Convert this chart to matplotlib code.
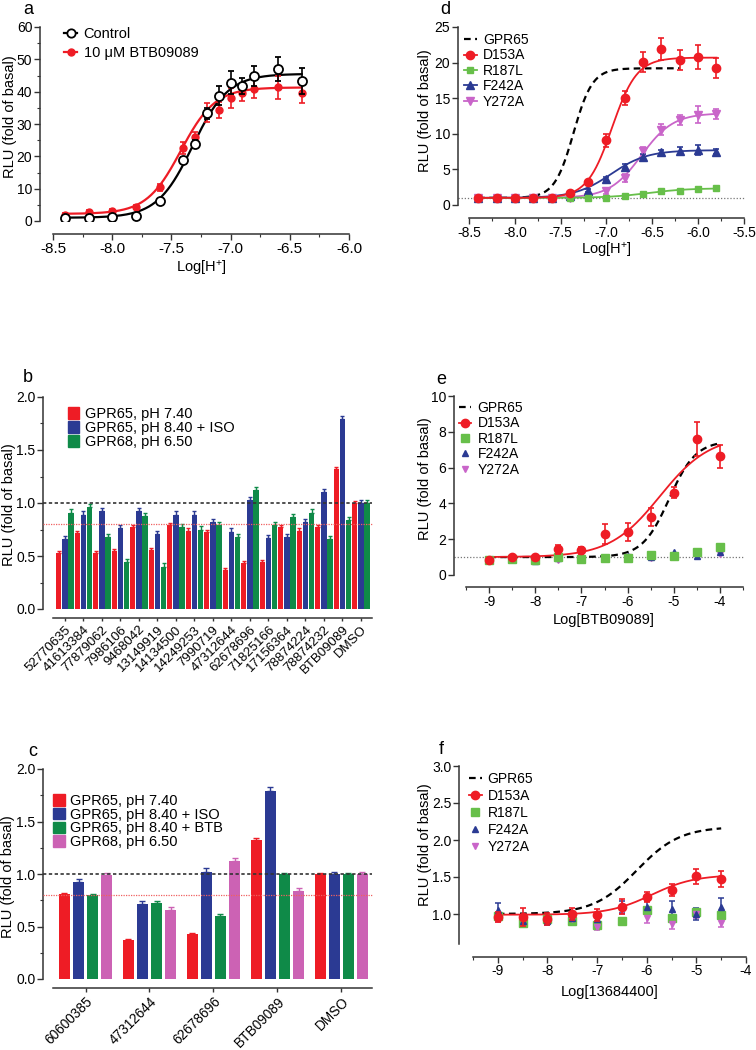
import numpy as np
import matplotlib
matplotlib.use('Agg')
import matplotlib.pyplot as plt
from matplotlib.lines import Line2D
from matplotlib.patches import Patch
import matplotlib.transforms as mtrans
from matplotlib.ticker import MultipleLocator, FixedLocator, FormatStrFormatter

plt.rcParams['font.family'] = ['Liberation Sans', 'DejaVu Sans']
plt.rcParams['mathtext.fontset'] = 'custom'
plt.rcParams['mathtext.rm'] = 'Liberation Sans'
plt.rcParams['mathtext.it'] = 'Liberation Sans:italic'
plt.rcParams['mathtext.default'] = 'regular'
plt.rcParams['axes.unicode_minus'] = False

# ---------------- data ----------------
# panel a
a_x = [-8.4, -8.2, -8.0, -7.8, -7.6, -7.4, -7.3, -7.2, -7.1, -7.0, -6.9, -6.8, -6.6, -6.4]
a_control = [0.8, 1.0, 1.1, 1.4, 6.3, 18.9, 23.8, 33.3, 38.8, 42.8, 41.8, 44.8, 47.0, 43.4]
a_control_err = [0.3, 0.3, 0.3, 0.4, 0.5, 1.0, 1.2, 1.8, 2.8, 3.5, 2.5, 3.0, 3.7, 4.0]
a_btb = [2.0, 2.8, 3.2, 4.4, 10.4, 22.5, 26.1, 33.5, 34.4, 38.1, 39.5, 40.7, 41.3, 39.7]
a_btb_err = [0.4, 0.5, 0.4, 0.5, 1.0, 1.8, 1.5, 3.0, 2.5, 3.0, 2.5, 2.8, 3.5, 3.2]
a_fit_control = (1.0, 45.5, -7.32, 2.9)   # bottom, top, logEC50, hill
a_fit_btb = (2.2, 41.3, -7.42, 3.0)

# panel b
b_cats = ['52770635', '41613384', '77879062', '7986106', '9468042', '13149919', '14134500',
          '14249253', '7990719', '47312644', '62678696', '71825166', '17156364', '78874224',
          '78874232', 'BTB09089', 'DMSO']
b_gpr65_74 = [0.53, 0.72, 0.53, 0.55, 0.77, 0.56, 0.79, 0.74, 0.73, 0.37, 0.43, 0.44, 0.77, 0.74, 0.77, 1.32, 1.00]
b_gpr65_84_iso = [0.66, 0.89, 0.92, 0.76, 0.92, 0.71, 0.89, 0.89, 0.82, 0.73, 1.03, 0.67, 0.68, 0.82, 1.10, 1.79, 1.00]
b_gpr68_65 = [0.91, 0.96, 0.68, 0.44, 0.88, 0.40, 0.77, 0.75, 0.79, 0.68, 1.12, 0.79, 0.87, 0.91, 0.66, 0.84, 1.00]
b_err_74 = [0.02] * 17
b_err_iso = [0.03] * 17
b_err_68 = [0.03] * 17
b_labels = ['GPR65, pH 7.40', 'GPR65, pH 8.40 + ISO', 'GPR68, pH 6.50']

# panel c
c_cats = ['60600385', '47312644', '62678696', 'BTB09089', 'DMSO']
c_gpr65_74 = [0.81, 0.37, 0.425, 1.32, 1.00]
c_gpr65_84_iso = [0.92, 0.71, 1.02, 1.79, 1.00]
c_gpr65_84_btb = [0.80, 0.72, 0.60, 1.00, 1.00]
c_gpr68_65 = [0.99, 0.66, 1.12, 0.84, 1.00]
c_err_74 = [0.01, 0.01, 0.01, 0.02, 0.01]
c_err_iso = [0.03, 0.03, 0.04, 0.04, 0.02]
c_err_btb = [0.01, 0.02, 0.02, 0.01, 0.01]
c_err_68 = [0.02, 0.03, 0.03, 0.03, 0.02]
c_labels = ['GPR65, pH 7.40', 'GPR65, pH 8.40 + ISO', 'GPR65, pH 8.40 + BTB', 'GPR68, pH 6.50']

# panel d
d_x = [-8.4, -8.2, -8.0, -7.8, -7.6, -7.4, -7.2, -7.0, -6.8, -6.6, -6.4, -6.2, -6.0, -5.8]
d_D153A = [1.0, 1.0, 1.0, 1.0, 1.0, 1.7, 3.2, 9.1, 15.0, 20.1, 21.9, 20.3, 20.8, 19.3]
d_D153A_err = [0.1, 0.1, 0.1, 0.1, 0.1, 0.2, 0.3, 0.9, 1.0, 1.4, 1.5, 1.4, 1.7, 1.4]
d_R187L = [1.0, 1.0, 1.0, 1.0, 1.0, 1.0, 1.0, 1.05, 1.25, 1.5, 1.95, 2.0, 2.2, 2.35]
d_R187L_err = [0.1] * 14
d_F242A = [1.0, 1.0, 1.0, 1.0, 1.0, 1.2, 2.0, 3.7, 5.4, 6.8, 7.4, 7.6, 7.7, 7.5]
d_F242A_err = [0.1, 0.1, 0.1, 0.1, 0.1, 0.1, 0.2, 0.3, 0.3, 0.4, 0.3, 0.5, 0.7, 0.3]
d_Y272A = [1.0, 1.0, 1.0, 1.0, 1.0, 1.0, 1.1, 1.9, 3.8, 7.6, 10.6, 12.0, 12.7, 12.8]
d_Y272A_err = [0.1, 0.1, 0.1, 0.1, 0.1, 0.1, 0.2, 0.3, 0.5, 0.6, 0.8, 0.7, 1.2, 0.7]
d_fit_GPR65 = (1.0, 19.2, -7.36, 4.2)
d_fit_D153A = (1.0, 20.7, -6.94, 3.2)
d_fit_R187L = (1.0, 2.35, -6.55, 2.0)
d_fit_F242A = (1.0, 7.7, -6.95, 2.2)
d_fit_Y272A = (1.0, 12.9, -6.62, 2.5)

# panel e
e_x = [-9, -8.5, -8, -7.5, -7, -6.5, -6, -5.5, -5, -4.5, -4]
e_D153A = [0.84, 0.99, 1.0, 1.45, 1.38, 2.29, 2.38, 3.22, 4.59, 7.58, 6.64]
e_D153A_err = [0.05, 0.05, 0.05, 0.25, 0.2, 0.55, 0.5, 0.5, 0.3, 0.95, 0.65]
e_R187L = [0.84, 0.91, 0.84, 0.98, 0.87, 0.93, 0.93, 1.1, 1.08, 1.28, 1.54]
e_F242A = [0.85, 0.9, 0.8, 0.95, 0.9, 0.95, 1.05, 1.0, 1.3, 1.05, 1.3]
e_Y272A = [0.85, 0.85, 0.85, 0.85, 0.9, 0.95, 1.0, 0.95, 1.05, 1.05, 1.15]
e_fit_GPR65 = (1.0, 7.5, -5.1, 1.5)
e_fit_D153A = (1.0, 7.8, -5.3, 0.8)

# panel f
f_x = [-9, -8.5, -8, -7.5, -7, -6.5, -6, -5.5, -5, -4.5]
f_D153A = [0.96, 0.96, 0.93, 1.0, 0.99, 1.10, 1.23, 1.33, 1.51, 1.47]
f_D153A_err = [0.07, 0.12, 0.08, 0.08, 0.08, 0.1, 0.07, 0.08, 0.1, 0.11]
f_R187L = [0.97, 0.88, 0.93, 0.9, 0.85, 0.9, 1.05, 0.95, 1.03, 0.99]
f_F242A = [1.05, 0.9, 0.9, 0.95, 0.93, 1.1, 1.1, 1.07, 1.0, 1.1]
f_F242A_err = [0.1, 0.05, 0.05, 0.05, 0.05, 0.08, 0.07, 0.1, 0.08, 0.12]
f_Y272A = [0.93, 0.9, 0.92, 0.93, 0.83, 1.05, 0.95, 0.87, 1.0, 0.88]
f_Y272A_err = [0.04, 0.04, 0.04, 0.04, 0.05, 0.05, 0.07, 0.07, 0.05, 0.06]
f_fit_GPR65 = (1.0, 2.18, -6.2, 1.0)
f_fit_D153A = (0.99, 1.53, -5.9, 1.0)

mutants = ['GPR65', 'D153A', 'R187L', 'F242A', 'Y272A']

# ---------------- style ----------------
RED = '#ee1c25'
BLUE = '#2b3a93'
GREEN = '#0f8a48'
PINK = '#cc62b4'
LGREEN = '#67bf4a'
MAG = '#c965c9'
AXC = '#333333'
DOT = '#777777'

TICK = 10
LAB = 10.5
LEG = 10

W, H = 756, 1050
fig = plt.figure(figsize=(W / 100, H / 100), dpi=100)


def P(px):
    return px * 0.72


def add_ax(left, right, top, bottom):
    return fig.add_axes([left / W, 1 - bottom / H, (right - left) / W, (bottom - top) / H])


def style(ax, yout, xout):
    for s in ['top', 'right']:
        ax.spines[s].set_visible(False)
    ax.spines['left'].set_position(('outward', P(yout)))
    ax.spines['bottom'].set_position(('outward', P(xout)))
    for s in ['left', 'bottom']:
        ax.spines[s].set_linewidth(1.1)
        ax.spines[s].set_color(AXC)
    ax.tick_params(which='major', direction='out', length=4, width=1.0, color=AXC,
                   labelsize=TICK, pad=1.5)
    ax.tick_params(which='minor', direction='out', length=2.5, width=0.8, color=AXC)
    ax.patch.set_visible(False)


def logistic(x, p):
    b, t, ec, h = p
    return b + (t - b) / (1 + 10 ** ((ec - x) * h))


def hline(ax, y, yout_px, ax_width_px, **kw):
    tr = mtrans.blended_transform_factory(ax.transAxes, ax.transData)
    ax.plot([-yout_px / ax_width_px, 1.0], [y, y], transform=tr, clip_on=False, **kw)


def legend(ax, handles, labels, xpx, ypx, **kw):
    opts = dict(loc='upper left', bbox_to_anchor=(xpx / W, 1 - ypx / H),
                bbox_transform=fig.transFigure, frameon=False, borderaxespad=0,
                borderpad=0, fontsize=LEG, handlelength=0.9, handletextpad=0.45,
                labelspacing=0.1)
    opts.update(kw)
    ax.legend(handles, labels, **opts)


def ftext(xpx, ypx, s, **kw):
    fig.text(xpx / W, 1 - ypx / H, s, ha='center', va='center', **kw)


# ---------------- panel a ----------------
ax = add_ax(53, 349, 27, 221)
style(ax, 13, 13)
ax.set_xlim(-8.5, -6.0)
ax.set_ylim(0, 60)
ax.xaxis.set_major_locator(MultipleLocator(0.5))
ax.xaxis.set_minor_locator(MultipleLocator(0.25))
ax.xaxis.set_major_formatter(FormatStrFormatter('%.1f'))
ax.tick_params(axis='x', labelsize=11)
ax.yaxis.set_major_locator(MultipleLocator(10))
ax.yaxis.set_minor_locator(MultipleLocator(5))
xs = np.linspace(a_x[0], a_x[-1], 300)
ax.plot(xs, logistic(xs, a_fit_btb), color=RED, lw=1.6, zorder=2)
ax.plot(xs, logistic(xs, a_fit_control), color='black', lw=1.6, zorder=2)
ax.errorbar(a_x, a_btb, yerr=a_btb_err, fmt='o', color=RED, ms=5, capsize=2.5,
            elinewidth=1.2, capthick=1.2, zorder=3)
ax.errorbar(a_x, a_control, yerr=a_control_err, fmt='o', color='black', mfc='white',
            mec='black', mew=1.3, ms=6.5, capsize=2.5, elinewidth=1.2, capthick=1.2, zorder=4)
hs = [Line2D([], [], color='black', lw=1.6, marker='o', mfc='white', mec='black', mew=1.3, ms=6),
      Line2D([], [], color=RED, lw=1.6, marker='o', ms=5)]
legend(ax, hs, ['Control', '10 \u03bcM BTB09089'], 64, 27, fontsize=10.5, labelspacing=0.35)
ftext(10, 117, 'RLU (fold of basal)', rotation=90, fontsize=LAB)
ftext(201, 268, 'Log[H$^{+}$]', fontsize=LAB)
ftext(28, 10, 'a', fontsize=13)

# ---------------- panel d ----------------
ax = add_ax(469, 744, 27, 205)
style(ax, 11, 13)
ax.set_xlim(-8.5, -5.5)
ax.set_ylim(0, 25)
ax.xaxis.set_major_locator(MultipleLocator(0.5))
ax.xaxis.set_minor_locator(MultipleLocator(0.25))
ax.xaxis.set_major_formatter(FormatStrFormatter('%.1f'))
ax.yaxis.set_major_locator(MultipleLocator(5))
hline(ax, 1.0, 11, 275, color=DOT, lw=0.9, ls=(0, (1, 1.5)), zorder=1)
xs = np.linspace(d_x[0], d_x[-1], 300)
xg = np.linspace(d_x[0], -6.2, 300)
ax.plot(xg, logistic(xg, d_fit_GPR65), color='black', lw=1.6, ls=(0, (3, 2)), zorder=2)
series_d = [(d_Y272A, d_Y272A_err, d_fit_Y272A, MAG, 'v', 5.5),
            (d_F242A, d_F242A_err, d_fit_F242A, BLUE, '^', 5.5),
            (d_R187L, d_R187L_err, d_fit_R187L, LGREEN, 's', 5),
            (d_D153A, d_D153A_err, d_fit_D153A, RED, 'o', 6)]
for y, e, p, c, m, ms in series_d:
    ax.plot(xs, logistic(xs, p), color=c, lw=1.3, zorder=2)
    ax.errorbar(d_x, y, yerr=e, fmt=m, color=c, ms=ms, capsize=2.5, elinewidth=1.2,
                capthick=1.2, zorder=3)
hs = [Line2D([], [], color='black', lw=1.6, ls=(0, (3, 2))),
      Line2D([], [], color=RED, lw=1.3, marker='o', ms=6),
      Line2D([], [], color=LGREEN, lw=1.3, marker='s', ms=5),
      Line2D([], [], color=BLUE, lw=1.3, marker='^', ms=5.5),
      Line2D([], [], color=MAG, lw=1.3, marker='v', ms=5.5)]
legend(ax, hs, mutants, 464, 33)
ftext(425, 111, 'RLU (fold of basal)', rotation=90, fontsize=LAB)
ftext(606, 250, 'Log[H$^{+}$]', fontsize=LAB)
ftext(445, 10, 'd', fontsize=13)

# ---------------- panel e ----------------
ax = add_ax(466, 743, 396, 575)
style(ax, 12, 12)
ax.set_xlim(-9.5, -3.5)
ax.set_ylim(0, 10)
ax.xaxis.set_major_locator(FixedLocator([-9, -8, -7, -6, -5, -4]))
ax.xaxis.set_minor_locator(FixedLocator(np.arange(-9.5, -3.4, 0.5)))
ax.xaxis.set_major_formatter(FormatStrFormatter('%d'))
ax.yaxis.set_major_locator(MultipleLocator(2))
hline(ax, 1.0, 12, 277, color=DOT, lw=0.9, ls=(0, (1, 1.5)), zorder=1)
xs = np.linspace(e_x[0], e_x[-1], 300)
ax.plot(xs, logistic(xs, e_fit_GPR65), color='black', lw=1.6, ls=(0, (3, 2)), zorder=2)
ax.plot(xs, logistic(xs, e_fit_D153A), color=RED, lw=1.3, zorder=2)
ax.plot(e_x, e_Y272A, 'v', color=MAG, ms=4.5, zorder=3)
ax.plot(e_x, e_F242A, '^', color=BLUE, ms=4.5, zorder=3)
ax.plot(e_x, e_R187L, 's', color=LGREEN, ms=5.5, zorder=3)
ax.errorbar(e_x, e_D153A, yerr=e_D153A_err, fmt='o', color=RED, ms=6, capsize=2.5,
            elinewidth=1.2, capthick=1.2, zorder=4)
hs = [Line2D([], [], color='black', lw=1.6, ls=(0, (3, 2))),
      Line2D([], [], color=RED, lw=1.3, marker='o', ms=6),
      Line2D([], [], color=LGREEN, lw=0, marker='s', ms=5.5),
      Line2D([], [], color=BLUE, lw=0, marker='^', ms=4.5),
      Line2D([], [], color=MAG, lw=0, marker='v', ms=4.5)]
legend(ax, hs, mutants, 459, 401)
ftext(425, 479, 'RLU (fold of basal)', rotation=90, fontsize=LAB)
ftext(604, 620, 'Log[BTB09089]', fontsize=LAB)
ftext(441, 380, 'e', fontsize=13)

# ---------------- panel f ----------------
ax = add_ax(473, 746, 766, 943.6)
style(ax, 14, 13)
ax.set_xlim(-9.5, -4.0)
ax.set_ylim(0.6, 3.0)
ax.xaxis.set_major_locator(FixedLocator([-9, -8, -7, -6, -5, -4]))
ax.xaxis.set_minor_locator(FixedLocator(np.arange(-9.5, -3.9, 0.5)))
ax.xaxis.set_major_formatter(FormatStrFormatter('%d'))
ax.yaxis.set_major_locator(FixedLocator([1.0, 1.5, 2.0, 2.5, 3.0]))
ax.yaxis.set_major_formatter(FormatStrFormatter('%.1f'))
xs = np.linspace(f_x[0], f_x[-1], 300)
ax.plot(xs, logistic(xs, f_fit_GPR65), color='black', lw=1.6, ls=(0, (3, 2)), zorder=2)
ax.plot(xs, logistic(xs, f_fit_D153A), color=RED, lw=1.3, zorder=2)
ax.errorbar(f_x, f_Y272A, yerr=f_Y272A_err, fmt='v', color=MAG, ms=4.5, capsize=2.5,
            elinewidth=1.1, capthick=1.1, zorder=3)
ax.errorbar(f_x, f_F242A, yerr=f_F242A_err, fmt='^', color=BLUE, ms=4.5, capsize=2.5,
            elinewidth=1.1, capthick=1.1, zorder=3)
ax.plot(f_x, f_R187L, 's', color=LGREEN, ms=5.5, zorder=3)
ax.errorbar(f_x, f_D153A, yerr=f_D153A_err, fmt='o', color=RED, ms=6, capsize=2.5,
            elinewidth=1.2, capthick=1.2, zorder=4)
hs = [Line2D([], [], color='black', lw=1.6, ls=(0, (3, 2))),
      Line2D([], [], color=RED, lw=1.3, marker='o', ms=6),
      Line2D([], [], color=LGREEN, lw=0, marker='s', ms=5.5),
      Line2D([], [], color=BLUE, lw=0, marker='^', ms=4.5),
      Line2D([], [], color=MAG, lw=0, marker='v', ms=4.5)]
legend(ax, hs, mutants, 469, 772, labelspacing=0.22)
ftext(425, 845, 'RLU (fold of basal)', rotation=90, fontsize=LAB)
ftext(610, 992, 'Log[13684400]', fontsize=LAB)
ftext(441, 749, 'f', fontsize=13)

# ---------------- panel b ----------------
ax = add_ax(53, 372, 397, 609)
style(ax, 10, 9)
nb = len(b_cats)
xb = np.arange(nb)
ax.set_xlim(-0.643, nb - 1 + 0.6)
ax.set_ylim(0, 2.0)
ax.yaxis.set_major_locator(MultipleLocator(0.5))
ax.yaxis.set_minor_locator(MultipleLocator(0.25))
ax.yaxis.set_major_formatter(FormatStrFormatter('%.1f'))
hline(ax, 1.0, 10, 319, color='#333333', lw=1.2, ls=(0, (2, 1.5)), zorder=4)
hline(ax, 0.8, 10, 319, color='#f06060', lw=0.9, ls=(0, (1, 1)), zorder=4)
bw = 0.29
off = 1 / 3
for j, (vals, errs, col) in enumerate([(b_gpr65_74, b_err_74, RED),
                                        (b_gpr65_84_iso, b_err_iso, BLUE),
                                        (b_gpr68_65, b_err_68, GREEN)]):
    xx = xb + (j - 1) * off
    ax.bar(xx, vals, width=bw, color=col, zorder=2)
    ax.errorbar(xx, vals, yerr=[np.zeros(nb), errs], fmt='none', ecolor=col,
                elinewidth=1.0, capsize=1.5, capthick=1.0, zorder=3)
ax.set_xticks(xb)
ax.set_xticklabels(b_cats, rotation=45, ha='right', va='top', rotation_mode='anchor',
                   fontsize=9.5)
ax.tick_params(axis='x', length=2, pad=2)
hs = [Patch(color=c) for c in (RED, BLUE, GREEN)]
legend(ax, hs, b_labels, 68, 407, fontsize=10.5, handlelength=0.75, handleheight=0.8,
       handletextpad=0.4, labelspacing=0.0)
ftext(9, 505, 'RLU (fold of basal)', rotation=90, fontsize=LAB)
ftext(28, 378, 'b', fontsize=13)

# ---------------- panel c ----------------
ax = add_ax(53, 372, 769, 979)
style(ax, 10, 9)
nc = len(c_cats)
xc = np.arange(nc)
ax.set_xlim(-0.508, 4.477)
ax.set_ylim(0, 2.0)
ax.yaxis.set_major_locator(MultipleLocator(0.5))
ax.yaxis.set_minor_locator(MultipleLocator(0.25))
ax.yaxis.set_major_formatter(FormatStrFormatter('%.1f'))
hline(ax, 1.0, 10, 319, color='#333333', lw=1.2, ls=(0, (2, 1.5)), zorder=4)
hline(ax, 0.8, 10, 319, color='#f06060', lw=0.9, ls=(0, (1, 1)), zorder=4)
bw = 0.164
off = 0.219
for j, (vals, errs, col) in enumerate([(c_gpr65_74, c_err_74, RED),
                                        (c_gpr65_84_iso, c_err_iso, BLUE),
                                        (c_gpr65_84_btb, c_err_btb, GREEN),
                                        (c_gpr68_65, c_err_68, PINK)]):
    xx = xc + (j - 1.5) * off
    ax.bar(xx, vals, width=bw, color=col, zorder=2)
    ax.errorbar(xx, vals, yerr=[np.zeros(nc), errs], fmt='none', ecolor=col,
                elinewidth=1.0, capsize=2.5, capthick=1.0, zorder=3)
ax.set_xticks(xc)
ax.set_xticklabels(c_cats, rotation=45, ha='right', va='top', rotation_mode='anchor',
                   fontsize=9.8)
ax.tick_params(axis='x', length=3, pad=1.5)
hs = [Patch(color=c) for c in (RED, BLUE, GREEN, PINK)]
legend(ax, hs, c_labels, 53, 794, fontsize=10.5, handlelength=0.8, handleheight=0.8,
       handletextpad=0.4, labelspacing=-0.02)
ftext(8, 877, 'RLU (fold of basal)', rotation=90, fontsize=LAB)
ftext(33, 752, 'c', fontsize=13)

fig.savefig('out.png', dpi=100)
